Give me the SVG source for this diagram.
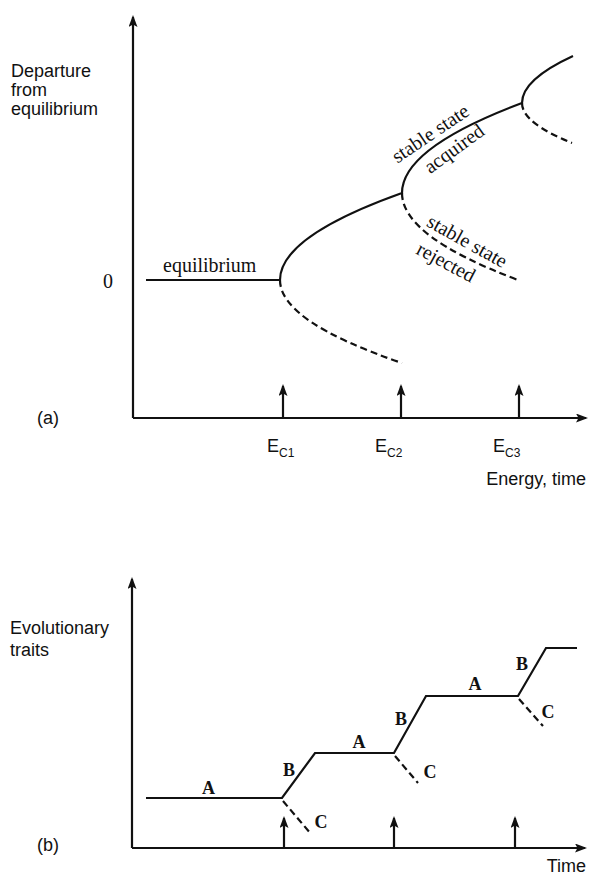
<svg xmlns="http://www.w3.org/2000/svg" width="589" height="878" viewBox="0 0 589 878">
<defs>
<marker id="ah" viewBox="0 0 12 9" refX="10" refY="4.5" markerWidth="12" markerHeight="9" markerUnits="userSpaceOnUse" orient="auto"><path d="M0,0 L12,4.5 L0,9 L2.5,4.5 Z" fill="#111"/></marker>
</defs>
<style>
.ax{stroke:#111;stroke-width:2.2;fill:none}
.cv{stroke:#111;stroke-width:2.2;fill:none}
.ds{stroke:#111;stroke-width:2.2;fill:none;stroke-dasharray:7 4}
.sans{font-family:"Liberation Sans",Arial,sans-serif;font-size:18px;fill:#111}
.sub{font-size:12px}
.serif{font-family:"Liberation Serif","Times New Roman",serif;font-size:20px;fill:#111}
.bold{font-family:"Liberation Serif","Times New Roman",serif;font-size:18px;font-weight:bold;fill:#111;text-anchor:middle}
</style>
<rect width="589" height="878" fill="#fff"/>
<g id="panel-a">
  <g id="a-axes">
    <path class="ax" d="M133,418 V17" marker-end="url(#ah)"/>
    <path class="ax" d="M133,418 H586" marker-end="url(#ah)"/>
    <path class="ax" d="M283,418 V386" marker-end="url(#ah)"/>
    <path class="ax" d="M401,418 V386" marker-end="url(#ah)"/>
    <path class="ax" d="M519,418 V386" marker-end="url(#ah)"/>
  </g>
  <g id="a-curves">
    <path class="cv" d="M146,280 H280"/>
    <path class="cv" d="M280,280 Q280,236.5 402,193 Q402,148 522,103 Q522,79.5 573,56"/>
    <path class="ds" d="M280,280 Q280,321.5 402,363"/>
    <path class="ds" d="M402,193 Q402,236.5 518,280"/>
    <path class="ds" d="M522,103 Q522,123 572,143"/>
  </g>
  <g id="a-labels">
    <text class="sans" x="11" y="77">Departure</text>
    <text class="sans" x="11" y="96">from</text>
    <text class="sans" x="11" y="115">equilibrium</text>
    <text class="serif" x="108" y="288" text-anchor="middle" font-size="18">0</text>
    <text class="serif" x="163" y="272">equilibrium</text>
    <text class="serif" text-anchor="middle" transform="translate(434,139) rotate(-34)">stable state</text>
    <text class="serif" text-anchor="middle" transform="translate(458,154) rotate(-36)">acquired</text>
    <text class="serif" text-anchor="middle" transform="translate(464,247) rotate(29)">stable state</text>
    <text class="serif" text-anchor="middle" transform="translate(443,268) rotate(28)">rejected</text>
    <text class="sans" x="37" y="424" font-size="17">(a)</text>
    <text class="sans" x="267" y="452">E<tspan class="sub" dy="5">C1</tspan></text>
    <text class="sans" x="375" y="452">E<tspan class="sub" dy="5">C2</tspan></text>
    <text class="sans" x="493" y="452">E<tspan class="sub" dy="5">C3</tspan></text>
    <text class="sans" x="586" y="485" text-anchor="end">Energy, time</text>
  </g>
</g>
<g id="panel-b">
  <g id="b-axes">
    <path class="ax" d="M132,848 V579" marker-end="url(#ah)"/>
    <path class="ax" d="M132,848 H585" marker-end="url(#ah)"/>
    <path class="ax" d="M284,848 V818" marker-end="url(#ah)"/>
    <path class="ax" d="M394,848 V818" marker-end="url(#ah)"/>
    <path class="ax" d="M515,848 V818" marker-end="url(#ah)"/>
  </g>
  <g id="b-curves">
    <path class="cv" d="M146,798 H282 L315,753 H394 L426,696 H518 L546,648 H577"/>
    <path class="ds" d="M283,801 L311,834" stroke-dasharray="5 3"/>
    <path class="ds" d="M395,756 L418,783" stroke-dasharray="5 3"/>
    <path class="ds" d="M519,699 L543,726" stroke-dasharray="5 3"/>
  </g>
  <g id="b-labels">
    <text class="sans" x="10" y="634">Evolutionary</text>
    <text class="sans" x="10" y="656">traits</text>
    <text class="sans" x="37" y="851" font-size="17">(b)</text>
    <text class="sans" x="586" y="872" text-anchor="end">Time</text>
    <text class="bold" x="208.5" y="794">A</text>
    <text class="bold" x="359" y="748">A</text>
    <text class="bold" x="475" y="690">A</text>
    <text class="bold" x="289" y="776">B</text>
    <text class="bold" x="401" y="725">B</text>
    <text class="bold" x="522" y="670">B</text>
    <text class="bold" x="321" y="828">C</text>
    <text class="bold" x="430" y="778">C</text>
    <text class="bold" x="548" y="718">C</text>
  </g>
</g>
</svg>
